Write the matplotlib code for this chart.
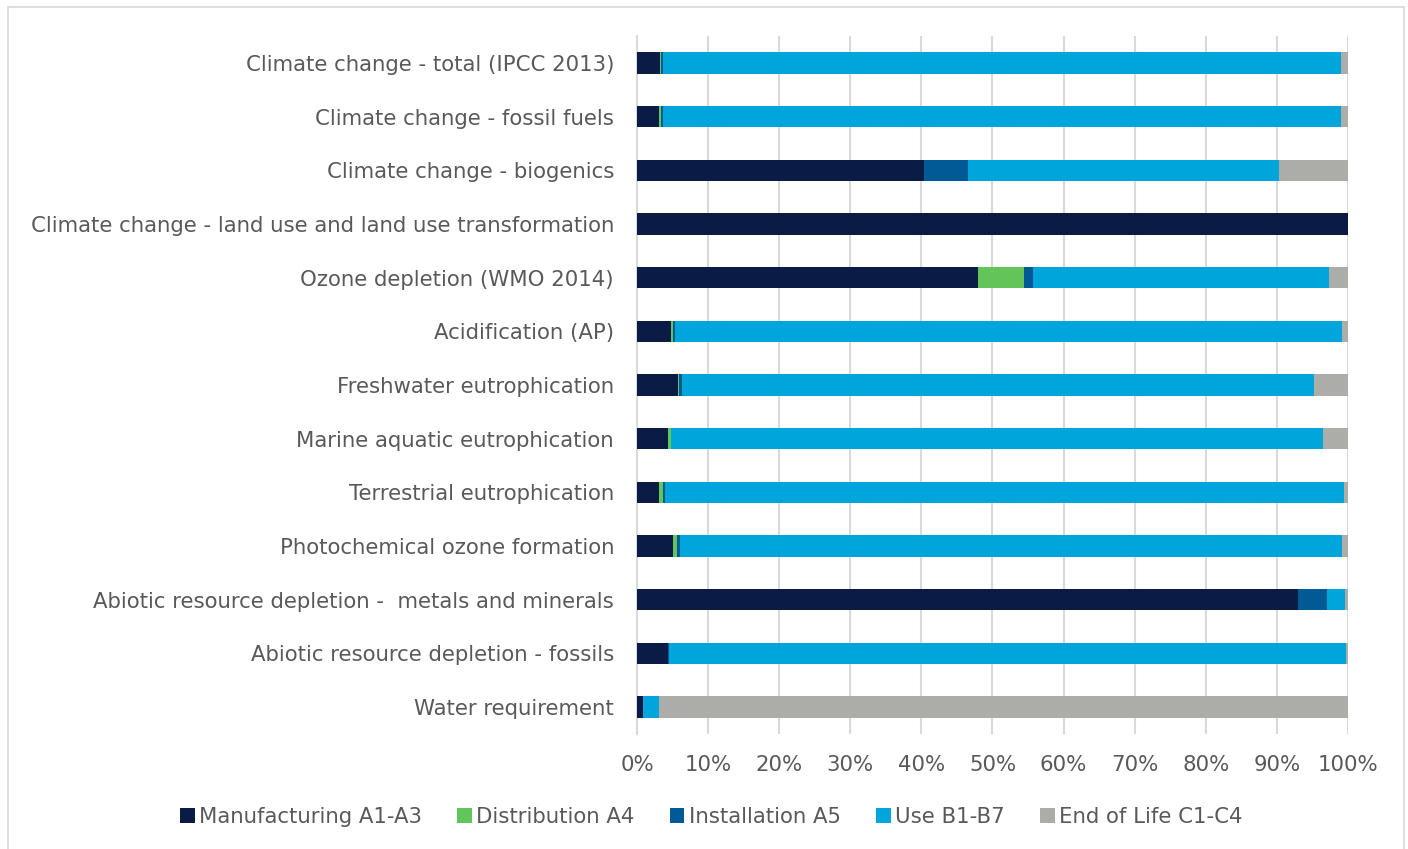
import matplotlib.pyplot as plt
import matplotlib.patches as mpatches
from matplotlib.ticker import PercentFormatter

categories = [
    "Climate change - total (IPCC 2013)",
    "Climate change - fossil fuels",
    "Climate change - biogenics",
    "Climate change - land use and land use transformation",
    "Ozone depletion (WMO 2014)",
    "Acidification (AP)",
    "Freshwater eutrophication",
    "Marine aquatic eutrophication",
    "Terrestrial eutrophication",
    "Photochemical ozone formation",
    "Abiotic resource depletion -  metals and minerals",
    "Abiotic resource depletion - fossils",
    "Water requirement",
]

# shares in %, one list per life-cycle stage
manufacturing = [3.2, 3.1, 40.3, 100.0, 48.0, 4.8, 5.8, 4.3, 3.1, 5.0, 93.0, 4.3, 0.85]
distribution = [0.2, 0.3, 0.0, 0.0, 6.4, 0.2, 0.1, 0.5, 0.5, 0.6, 0.0, 0.0, 0.0]
installation = [0.3, 0.3, 6.2, 0.0, 1.3, 0.4, 0.4, 0.0, 0.3, 0.4, 4.1, 0.2, 0.05]
use = [95.3, 95.3, 43.8, 0.0, 41.6, 93.8, 88.9, 91.7, 95.5, 93.2, 2.5, 95.2, 2.2]
end_of_life = [1.0, 1.0, 9.7, 0.0, 2.7, 0.8, 4.8, 3.5, 0.6, 0.8, 0.4, 0.3, 96.9]

series = [
    ("Manufacturing A1-A3", manufacturing, "#0a1c45"),
    ("Distribution A4", distribution, "#62c55a"),
    ("Installation A5", installation, "#005a96"),
    ("Use B1-B7", use, "#00a6db"),
    ("End of Life C1-C4", end_of_life, "#acada8"),
]

txt = "#595959"
fig = plt.figure(figsize=(14.08, 8.49), dpi=100)
ax = fig.add_axes([0.4524, 0.1355, 0.505, 0.822])

y = list(range(len(categories)))
left = [0.0] * len(categories)
for name, vals, col in series:
    ax.barh(y, vals, left=left, height=0.4, color=col, label=name, zorder=3)
    left = [a + b for a, b in zip(left, vals)]

ax.set_ylim(len(categories) - 0.5, -0.5)
ax.set_xlim(0, 100)
ax.set_xticks(range(0, 101, 10))
ax.xaxis.set_major_formatter(PercentFormatter(decimals=0))
ax.set_yticks(y)
ax.set_yticklabels(categories)
ax.grid(axis="x", color="#d9d9d9", linewidth=1.5, zorder=0)
for s in ["top", "right", "bottom"]:
    ax.spines[s].set_visible(False)
ax.spines["left"].set_color("#d9d9d9")
ax.spines["left"].set_linewidth(1.5)
ax.tick_params(length=0, labelcolor=txt, labelsize=15.3)
ax.tick_params(axis="y", pad=16.5)
ax.tick_params(axis="x", pad=15)

fig.legend(loc="center", bbox_to_anchor=(0.505, 0.038), ncol=5, frameon=False,
           fontsize=15.3, labelcolor=txt, handlelength=0.7, handleheight=0.7,
           handletextpad=0.2, columnspacing=1.65)

# border around the chart area (bottom edge falls outside the image)
fig.patches.append(mpatches.Rectangle((0.0057, -0.02), 0.9915, 1.0118, transform=fig.transFigure,
                                      fill=False, edgecolor="#d9d9d9", linewidth=1.2))

fig.savefig("out.png", dpi=100)
